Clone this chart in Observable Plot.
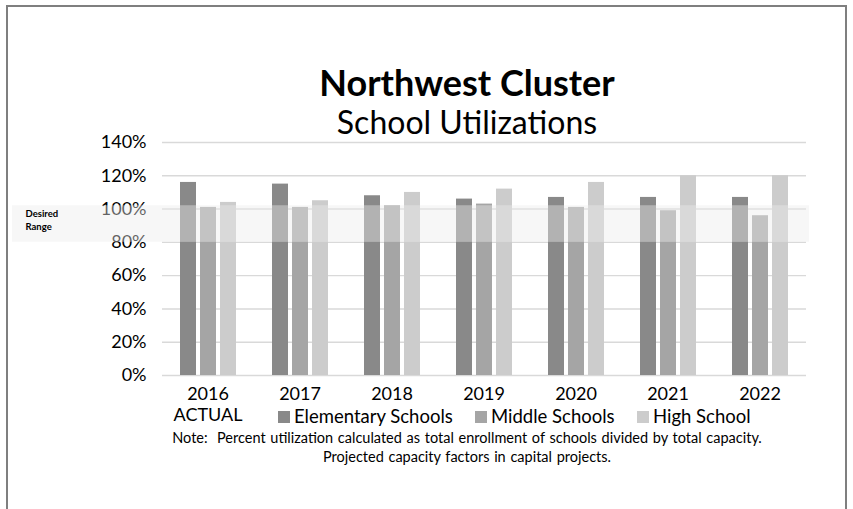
<!DOCTYPE html>
<html><head><meta charset="utf-8">
<script src="https://cdn.jsdelivr.net/npm/d3@7"></script>
<script src="https://cdn.jsdelivr.net/npm/@observablehq/plot@0.6"></script>
<style>
body{margin:0;background:#fff;font-family:Lato,"Open Sans",sans-serif;color:#000;}
#wrap{position:relative;width:853px;height:509px;overflow:hidden;background:#fff;}
#frame{position:absolute;left:6px;top:5px;width:837px;height:530px;border:2px solid #7f7f7f;}
.layer{position:absolute;left:0;top:0;}
.title{position:absolute;left:81px;width:772px;text-align:center;white-space:nowrap;line-height:1;}
#t1{top:64px;font-size:36px;font-weight:bold;}
#t2{top:106px;font-size:32px;}
#legend{position:absolute;top:405px;left:0;width:853px;height:24px;font-size:18.5px;}
.li{position:absolute;top:0;white-space:nowrap;line-height:22px;}
.sw{display:inline-block;width:12px;height:12px;margin-right:4px;vertical-align:0px;}
.note{position:absolute;left:81px;width:772px;text-align:center;font-size:14.5px;white-space:pre;line-height:18px;word-spacing:1px;}
</style></head>
<body>
<div id="wrap">
  <div id="frame"></div>
  <div id="bg" class="layer"></div>
  <div id="bars" class="layer"></div>
  <div id="ov" class="layer"></div>
  <div id="t1" class="title"></div>
  <div id="t2" class="title"></div>
  <div id="legend"></div>
  <div id="n1" class="note" style="top:429px"></div>
  <div id="n2" class="note" style="top:448px"></div>
</div>
<script>
const titleText = "Northwest Cluster";
const subtitleText = "School Utilizations";
const years = ["2016","2017","2018","2019","2020","2021","2022"];
const yearNotes = {"2016": "ACTUAL"};
const series = ["Elementary Schools","Middle Schools","High School"];
const elementary = [116,115,108,106,107,107,107];
const middle = [101,101,102,103,101,99,96];
const high = [104,105,110,112,116,120,120];
const colors = ["#898989","#a5a5a5","#cccccc"];
const yTicks = [0,20,40,60,80,100,120,140];
const desiredRange = [{lo:80, hi:102, label:"Desired\nRange"}];
const noteLines = ["Note:  Percent utilization calculated as total enrollment of schools divided by total capacity.",
                   "Projected capacity factors in capital projects."];
const legendLefts = [278, 475, 637];

document.getElementById("t1").textContent = titleText;
document.getElementById("t2").textContent = subtitleText;
document.getElementById("n1").textContent = noteLines[0];
document.getElementById("n2").textContent = noteLines[1];

const valuesBySeries = [elementary, middle, high];
const rows = years.flatMap((yr, i) => series.map((s, j) => ({year: yr, series: s, value: valuesBySeries[j][i]})));

const W = 853, H = 430, MT = 142, MB = 55, ML = 162, MR = 47;
const font = "Lato, 'Open Sans', sans-serif";

const bg = Plot.plot({
  width: W, height: H, marginTop: MT, marginBottom: MB, marginLeft: ML, marginRight: MR,
  style: {background: "transparent", fontFamily: font, color: "#000", overflow: "visible"},
  y: {domain: [0, 140]},
  marks: [
    Plot.gridY(yTicks, {stroke: "#d9d9d9", strokeOpacity: 1, strokeWidth: 1.4}),
    Plot.axisY(yTicks, {tickSize: 0, tickPadding: 16, tickFormat: d => d + "%", fontSize: 18, label: null})
  ]
});
document.getElementById("bg").appendChild(bg);

const bars = Plot.plot({
  width: W, height: H, marginTop: MT, marginBottom: MB, marginLeft: ML, marginRight: MR,
  style: {background: "transparent", fontFamily: font, color: "#000", overflow: "visible"},
  fx: {domain: years, paddingInner: 0.38, paddingOuter: 0.19, label: null},
  x: {domain: series, paddingInner: 0.22, paddingOuter: 0, axis: null},
  y: {domain: [0, 140], axis: null},
  color: {domain: series, range: colors},
  marks: [
    Plot.barY(rows, {fx: "year", x: "series", y: "value", fill: "series"}),
    Plot.axisFx({anchor: "bottom", tickSize: 0, tickPadding: 9, fontSize: 18, lineHeight: 1.2, label: null,
      tickFormat: d => yearNotes[d] ? d + "\n" + yearNotes[d] : d})
  ]
});
document.getElementById("bars").appendChild(bars);

const ov = Plot.plot({
  width: W, height: H, marginTop: MT, marginBottom: MB, marginLeft: 12, marginRight: 44,
  style: {background: "transparent", fontFamily: font, color: "#000", overflow: "visible"},
  y: {domain: [0, 140], axis: null},
  marks: [
    Plot.rect(desiredRange, {y1: "lo", y2: "hi", fill: "#ececec", fillOpacity: 0.42}),
    Plot.text(desiredRange, {y: d => (d.lo + d.hi) / 2, text: "label", frameAnchor: "left", textAnchor: "start",
      dx: 13, dy: -5, fontWeight: "bold", fontSize: 9.5, lineHeight: 1.4, fill: "#000"})
  ]
});
document.getElementById("ov").appendChild(ov);

const legend = document.getElementById("legend");
series.forEach((s, i) => {
  const item = document.createElement("div");
  item.className = "li";
  item.style.left = legendLefts[i] + "px";
  const sw = document.createElement("span");
  sw.className = "sw";
  sw.style.background = colors[i];
  item.appendChild(sw);
  item.appendChild(document.createTextNode(s));
  legend.appendChild(item);
});
</script>
</body></html>
